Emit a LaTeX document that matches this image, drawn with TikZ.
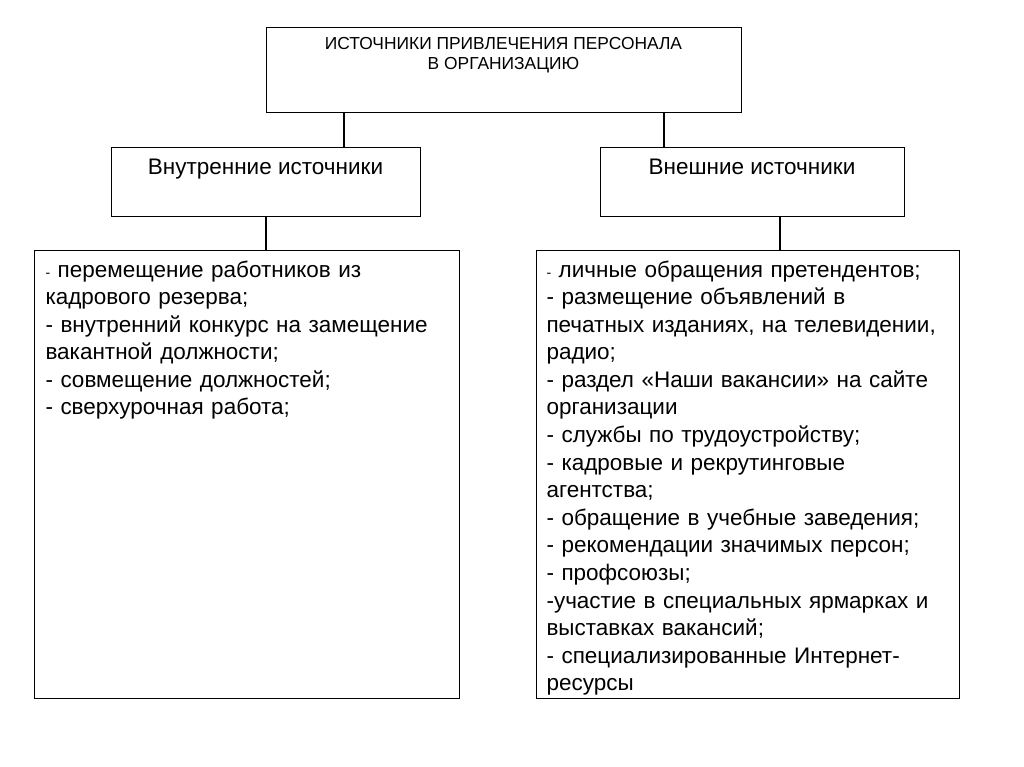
\documentclass[tikz,border=0pt]{standalone}
\usepackage{fontspec}
\setmainfont{Liberation Sans}
\usetikzlibrary{positioning}

\begin{document}
\begin{tikzpicture}[x=0.02cm, y=-0.02cm, line width=0.6pt]
        \tikzset{frame/.style={draw, rectangle, inner sep=0pt, anchor=north west},
                 txt/.style={inner sep=0pt, font=\fontsize{12.8}{15.7}\selectfont},
                 lst/.style={txt, anchor=north west, align=left, text width=8.3cm}}
        \useasboundingbox (0,0) rectangle (1024,767);
        %% Рамки
        \node[frame, minimum width=9.5cm,  minimum height=1.7cm]  (top) at (266,27)  {};
        \node[frame, minimum width=6.18cm, minimum height=1.38cm] (inn) at (111,147) {};
        \node[frame, minimum width=6.08cm, minimum height=1.38cm] (ext) at (600,147) {};
        \node[frame, minimum width=8.5cm,  minimum height=8.96cm] (inl) at (34,250)  {};
        \node[frame, minimum width=8.46cm, minimum height=8.96cm] (exl) at (536,250) {};
        %% Заголовки
        \node[inner sep=0pt, anchor=north, align=center,
              font=\fontsize{9.9}{11.4}\selectfont] (ttl) at (503.5,37)
             {ИСТОЧНИКИ ПРИВЛЕЧЕНИЯ ПЕРСОНАЛА\\В ОРГАНИЗАЦИЮ};
        \node[txt, anchor=north] (innt) at (265.5,159) {Внутренние источники};
        \node[txt, anchor=north] (extt) at (752,159)   {Внешние источники};
        %% Списки
        \node[lst] (inlt) at (45,260)
             {{\footnotesize -} перемещение работников из\\
              кадрового резерва;\\
              - внутренний конкурс на замещение\\
              вакантной должности;\\
              - совмещение должностей;\\
              - сверхурочная работа;};
        \node[lst] (exlt) at (546,260)
             {{\footnotesize -} личные обращения претендентов;\\
              - размещение объявлений в\\
              печатных изданиях, на телевидении,\\
              радио;\\
              - раздел «Наши вакансии» на сайте\\
              организации\\
              - службы по трудоустройству;\\
              - кадровые и рекрутинговые\\
              агентства;\\
              - обращение в учебные заведения;\\
              - рекомендации значимых персон;\\
              - профсоюзы;\\
              -участие в специальных ярмарках и\\
              выставках вакансий;\\
              - специализированные Интернет-\\
              ресурсы};
        %% Связи
        \coordinate (jl) at (344,0);
        \coordinate (jr) at (664,0);
        \draw (top.south -| jl) -- (inn.north -| jl);
        \draw (top.south -| jr) -- (ext.north -| jr);
        \draw (inn.south) -- (inl.north -| inn.south);
        \draw (ext.south -| 780,0) -- (exl.north -| 780,0);
\end{tikzpicture}
\end{document}
